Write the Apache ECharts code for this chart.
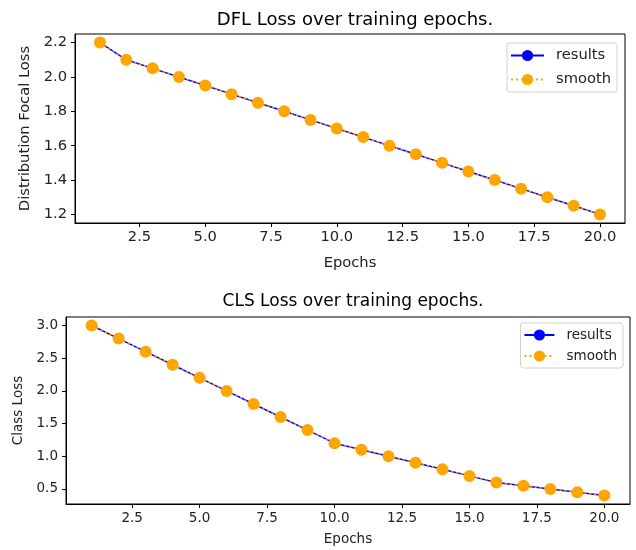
<!DOCTYPE html>
<html>
<head>
<meta charset="utf-8">
<script src="https://cdn.jsdelivr.net/npm/echarts@6/dist/echarts.min.js"></script>
<style>
  html, body { margin: 0; padding: 0; background: #fff; }
  #chart { width: 636px; height: 550px; }
</style>
</head>
<body>
<div id="chart"></div>
<script>
var epochs = [1, 2, 3, 4, 5, 6, 7, 8, 9, 10, 11, 12, 13, 14, 15, 16, 17, 18, 19, 20];
var dflLoss = [2.2, 2.1, 2.05, 2.0, 1.95, 1.9, 1.85, 1.8, 1.75, 1.7, 1.65, 1.6, 1.55, 1.5, 1.45, 1.4, 1.35, 1.3, 1.25, 1.2];
var clsLoss = [3.0, 2.8, 2.6, 2.4, 2.2, 2.0, 1.8, 1.6, 1.4, 1.2, 1.1, 1.0, 0.9, 0.8, 0.7, 0.6, 0.55, 0.5, 0.45, 0.4];
var xTicks = [2.5, 5.0, 7.5, 10.0, 12.5, 15.0, 17.5, 20.0];
var dflTicks = [1.2, 1.4, 1.6, 1.8, 2.0, 2.2];
var clsTicks = [0.5, 1.0, 1.5, 2.0, 2.5, 3.0];

var font = 'DejaVu Sans';

function pairs(ys) {
  return epochs.map(function (x, i) { return [x, ys[i]]; });
}

function xAxis(gridIndex, gap, fs) {
  return {
    type: 'value', gridIndex: gridIndex, min: 0.05, max: 20.95,
    name: 'Epochs', nameLocation: 'middle', nameGap: gap,
    nameTextStyle: { color: '#222', fontSize: fs, fontFamily: font },
    splitLine: { show: false },
    axisLine: { show: true, onZero: false, lineStyle: { color: '#000', width: 1 } },
    axisTick: { show: true, length: 4, customValues: xTicks, lineStyle: { color: '#000' } },
    axisLabel: { customValues: xTicks, color: '#222', fontSize: fs, fontFamily: font, margin: 7,
      formatter: function (v) { return v.toFixed(1); } }
  };
}

function yAxis(gridIndex, min, max, ticks, name, gap, fs) {
  return {
    type: 'value', gridIndex: gridIndex, min: min, max: max,
    name: name, nameLocation: 'middle', nameGap: gap,
    nameTextStyle: { color: '#222', fontSize: fs, fontFamily: font },
    splitLine: { show: false },
    axisLine: { show: true, lineStyle: { color: '#000', width: 1 } },
    axisTick: { show: true, length: 4, customValues: ticks, lineStyle: { color: '#000' } },
    axisLabel: { customValues: ticks, color: '#222', fontSize: fs, fontFamily: font, margin: 8,
      formatter: function (v) { return v.toFixed(1); } }
  };
}

function lineSeries(name, idx, ys, color, type, size, z) {
  return {
    name: name, type: 'line', xAxisIndex: idx, yAxisIndex: idx,
    data: pairs(ys), symbol: 'circle', symbolSize: size, z: z,
    lineStyle: { color: color, width: 1.5, type: type },
    itemStyle: { color: color },
    animation: false
  };
}

function legend(top, right, fs, w, gap) {
  return {
    orient: 'vertical', top: top, right: right,
    data: ['results', 'smooth'],
    itemWidth: w, itemHeight: 14, itemGap: gap,
    backgroundColor: '#fff', borderColor: '#d0d0d0', borderWidth: 1, borderRadius: 3,
    padding: [5, 6, 5, 3],
    textStyle: { color: '#222', fontSize: fs, fontFamily: font, padding: [0, 0, 0, 7] }
  };
}

var chart = echarts.init(document.getElementById('chart'));
chart.setOption({
  backgroundColor: '#fff',
  title: [
    { text: 'DFL Loss over training epochs.', left: 350, top: 6, textAlign: 'center',
      textStyle: { color: '#000', fontSize: 18, fontWeight: 'normal', fontFamily: font } },
    { text: 'CLS Loss over training epochs.', left: 348, top: 288, textAlign: 'center',
      textStyle: { color: '#000', fontSize: 17, fontWeight: 'normal', fontFamily: font } }
  ],
  legend: [legend(43, 19, 14.7, 33, 9), legend(323, 13, 13.5, 30, 7)],
  grid: [
    { left: 75, top: 34, width: 550, height: 189, show: true, borderColor: '#000', borderWidth: 1 },
    { left: 66, top: 317, width: 564, height: 187, show: true, borderColor: '#000', borderWidth: 1 }
  ],
  xAxis: [xAxis(0, 33, 14.7), xAxis(1, 28, 13.5)],
  yAxis: [
    yAxis(0, 1.15, 2.25, dflTicks, 'Distribution Focal Loss', 40, 14.7),
    yAxis(1, 0.27, 3.13, clsTicks, 'Class Loss', 36, 13.5)
  ],
  series: [
    lineSeries('results', 0, dflLoss, '#0000ff', 'solid', 10, 2),
    lineSeries('smooth', 0, dflLoss, '#ffa500', [2, 3], 12, 3),
    lineSeries('results', 1, clsLoss, '#0000ff', 'solid', 10, 2),
    lineSeries('smooth', 1, clsLoss, '#ffa500', [2, 3], 12, 3)
  ]
});
</script>
</body>
</html>
